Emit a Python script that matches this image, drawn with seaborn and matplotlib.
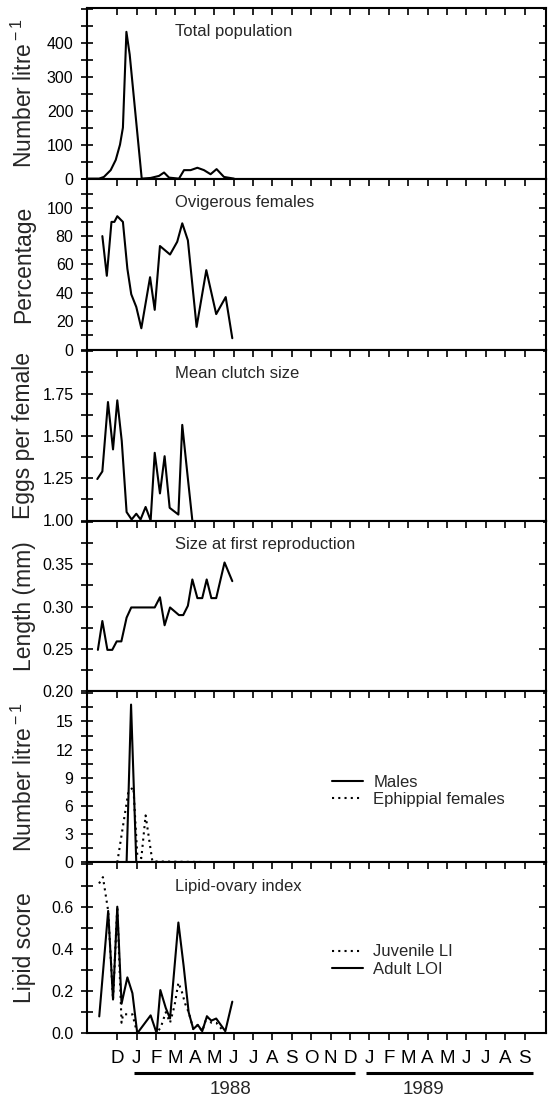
import numpy as np
import pandas as pd
import matplotlib
matplotlib.use("Agg")
import matplotlib.pyplot as plt
import matplotlib.transforms as mtrans
from matplotlib.ticker import MultipleLocator, FixedLocator, FormatStrFormatter
import seaborn as sns

sns.set_style("ticks")
plt.rcParams["font.family"] = ["Liberation Sans", "DejaVu Sans"]
plt.rcParams["mathtext.fontset"] = "custom"
plt.rcParams["mathtext.rm"] = "Liberation Sans"
plt.rcParams["mathtext.it"] = "Liberation Sans:italic"

# x positions are months after the December 1987 tick (D = 0)
month_labels = ["D", "J", "F", "M", "A", "M", "J", "J", "A", "S", "O", "N",
                "D", "J", "F", "M", "A", "M", "J", "J", "A", "S"]
year_labels = ["1988", "1989"]

# Total population (number per litre)
pop_t = [-1.54, -0.94, -0.69, -0.34, -0.08, 0.14, 0.29, 0.47, 0.64, 1.26,
         1.72, 2.15, 2.41, 2.67, 3.18, 3.44, 3.78, 4.13, 4.47, 4.81, 5.12,
         5.50, 6.02]
pop_n = [0, 0, 5, 25, 55, 100, 150, 432, 365, 0,
         2, 8, 18, 3, 0, 25, 25, 32, 25, 13, 28,
         5, 0]

# Ovigerous females (%)
ovi_t = [-0.77, -0.54, -0.30, -0.15, 0.0, 0.29, 0.52, 0.72, 0.98, 1.24,
         1.69, 1.93, 2.20, 2.72, 3.09, 3.35, 3.64, 4.09, 4.59, 5.10, 5.59, 5.93]
ovi_p = [80, 52, 90, 90, 94, 90, 57, 39, 30, 15,
         51, 28, 73, 67, 76, 89, 77, 16, 56, 25, 37, 8]

# Mean clutch size (eggs per female)
clu_t = [-1.03, -0.77, -0.48, -0.22, 0.0, 0.23, 0.48, 0.74, 0.98, 1.20,
         1.46, 1.72, 1.93, 2.20, 2.44, 2.70, 3.15, 3.35, 3.61, 3.87]
clu_e = [1.245, 1.29, 1.70, 1.42, 1.71, 1.47, 1.05, 1.006, 1.04, 1.006,
         1.08, 1.0, 1.40, 1.16, 1.38, 1.075, 1.035, 1.565, 1.28, 1.0]

# Size at first reproduction (mm)
siz_t = [-1.0, -0.77, -0.51, -0.26, -0.03, 0.21, 0.48, 0.72, 1.20, 1.93,
         2.20, 2.44, 2.72, 3.18, 3.40, 3.64, 3.87, 4.13, 4.38, 4.61, 4.85,
         5.10, 5.53, 5.93]
siz_l = [0.249, 0.283, 0.249, 0.249, 0.259, 0.259, 0.287, 0.299, 0.299, 0.299,
         0.311, 0.278, 0.299, 0.290, 0.290, 0.301, 0.332, 0.310, 0.310, 0.332,
         0.310, 0.310, 0.352, 0.330]

# Males and ephippial females (number per litre)
mal_t = [-1.0, 0.48, 0.71, 0.98, 5.93]
mal_n = [0, 0, 16.8, 0, 0]
eph_t = [0.0, 0.57, 0.83, 1.03, 1.24, 1.46, 1.81, 5.93]
eph_n = [0, 7.5, 8.0, 0.8, 0.45, 5.0, 0.1, 0]

# Lipid-ovary index
loi_t = [-0.93, -0.47, -0.22, 0.0, 0.22, 0.52, 0.78, 1.03, 1.72, 2.03,
         2.22, 2.50, 2.72, 3.15, 3.42, 3.68, 3.92, 4.15, 4.38, 4.62,
         4.85, 5.10, 5.57, 5.93]
loi_s = [0.08, 0.58, 0.16, 0.60, 0.14, 0.265, 0.19, 0.0, 0.085, 0.0,
         0.205, 0.12, 0.07, 0.525, 0.32, 0.10, 0.02, 0.04, 0.01, 0.08,
         0.06, 0.07, 0.01, 0.15]
juv_t = [-0.94, -0.74, -0.47, -0.22, 0.0, 0.22, 0.30, 0.52, 0.78, 1.03,
         2.03, 2.25, 2.50, 2.72, 2.95, 3.15, 3.32, 3.50, 3.68, 3.92,
         4.15, 4.38, 4.62, 4.85, 5.10, 5.57]
juv_s = [0.71, 0.74, 0.58, 0.16, 0.60, 0.05, 0.09, 0.09, 0.09, 0.0,
         0.0, 0.03, 0.10, 0.05, 0.13, 0.24, 0.20, 0.14, 0.10, 0.02,
         0.04, 0.01, 0.08, 0.05, 0.05, 0.0]

# y tick values per panel (labelled) and minor spacing
pop_ticks = [0, 100, 200, 300, 400]
ovi_ticks = [0, 20, 40, 60, 80, 100]
clu_ticks = [1.00, 1.25, 1.50, 1.75]
siz_ticks = [0.20, 0.25, 0.30, 0.35]
mal_ticks = [0, 3, 6, 9, 12, 15]
loi_ticks = [0.0, 0.2, 0.4, 0.6]

W, H = 548, 1101
fig = plt.figure(figsize=(W / 100, H / 100), dpi=100)

left_px, right_px, top_px, bot_px = 86.7, 546.3, 7.7, 1033.3
n = 6
ph = (bot_px - top_px) / n
axes = []
for i in range(n):
    y0 = 1 - (top_px + (i + 1) * ph) / H
    ax = fig.add_axes([left_px / W, y0, (right_px - left_px) / W, ph / H])
    axes.append(ax)

lw = 1.5
dot = (0, (1, 2))

def line(ax, t, v, ls="-", label=None):
    df = pd.DataFrame({"t": t, "v": v})
    sns.lineplot(data=df, x="t", y="v", ax=ax, color="black", lw=lw,
                 linestyle=ls, estimator=None, sort=False, label=label,
                 legend=False)

line(axes[0], pop_t, pop_n)
line(axes[1], ovi_t, ovi_p)
line(axes[2], clu_t, clu_e)
line(axes[3], siz_t, siz_l)
line(axes[4], mal_t, mal_n, "-", "Males")
line(axes[4], eph_t, eph_n, dot, "Ephippial females")
line(axes[5], juv_t, juv_s, dot, "Juvenile LI")
line(axes[5], loi_t, loi_s, "-", "Adult LOI")

specs = [
    ((0, 503), pop_ticks, 50, "%d", "Total population", r"Number litre$^{\rm -1}$"),
    ((0, 120.5), ovi_ticks, 10, "%d", "Ovigerous females", "Percentage"),
    ((1.0, 2.01), clu_ticks, 0.125, "%.2f", "Mean clutch size", "Eggs per female"),
    ((0.20, 0.4015), siz_ticks, 0.025, "%.2f", "Size at first reproduction", "Length (mm)"),
    ((0, 18.2), mal_ticks, 1.5, "%d", None, r"Number litre$^{\rm -1}$"),
    ((0, 0.81), loi_ticks, 0.1, "%.1f", "Lipid-ovary index", "Lipid score"),
]

for i, (ax, (ylim, maj, mnr, fmt, title, ylab)) in enumerate(zip(axes, specs)):
    ax.set_xlim(-1.577, 22.12)
    ax.set_ylim(*ylim)
    ax.set_xticks(range(len(month_labels)))
    ax.yaxis.set_major_locator(FixedLocator(maj))
    ax.yaxis.set_minor_locator(MultipleLocator(mnr))
    ax.yaxis.set_major_formatter(FormatStrFormatter(fmt))
    for s in ax.spines.values():
        s.set_visible(True)
        s.set_linewidth(1.5)
        s.set_color("black")
    ax.tick_params(axis="y", which="both", left=True, right=True,
                   direction="inout", length=9, width=1.2,
                   labelsize=11.5, pad=5, colors="black")
    ax.tick_params(axis="x", which="major", bottom=True, top=True,
                   direction="out", length=5, width=1.2, colors="black")
    ax.set_xlabel("")
    ax.set_ylabel("")
    if title:
        ax.text(0.1916, 0.86, title, transform=ax.transAxes, ha="left",
                va="center", fontsize=12)
    yc = 1 - (top_px + (i + 0.5) * ph) / H
    fig.text(24 / W, yc, ylab, rotation=90, ha="center", va="center",
             fontsize=16.5)
    if i < n - 1:
        ax.tick_params(axis="x", labelbottom=False)
    else:
        ax.set_xticklabels(month_labels)
        ax.tick_params(axis="x", labelsize=13.5, pad=7)
    # top ticks point inward
    for t in ax.xaxis.get_major_ticks():
        t.tick2line.set_marker(matplotlib.lines.TICKDOWN)
    ax.grid(False)

# right-hand ticks: inward only
for ax in axes:
    for t in ax.yaxis.get_major_ticks():
        t.tick2line.set_marker(matplotlib.lines.TICKLEFT)
        t.tick2line.set_markersize(5)
    for t in ax.yaxis.get_minor_ticks():
        t.tick2line.set_marker(matplotlib.lines.TICKLEFT)
        t.tick2line.set_markersize(2.5)

# legends
for ax, yc in ((axes[4], 0.418), (axes[5], 0.425)):
    ax.legend(loc="center left", bbox_to_anchor=(0.533, yc), frameon=False,
              fontsize=12, handlelength=1.9, handletextpad=0.6,
              labelspacing=0.15, borderpad=0, borderaxespad=0)

# year bars under the month labels
ax = axes[-1]
tr = mtrans.blended_transform_factory(ax.transData, ax.transAxes)
year_spans = ((0.85, 12.27), (12.84, 21.46))
year_centres = (5.85, 15.76)
for (x0, x1), xc, lab in zip(year_spans, year_centres, year_labels):
    ax.plot([x0, x1], [-0.231, -0.231], color="black", lw=2.2,
            transform=tr, clip_on=False, solid_capstyle="butt")
    ax.text(xc, -0.33, lab, transform=tr, ha="center", va="center",
            fontsize=13.5)

fig.savefig("out.png", dpi=100)
